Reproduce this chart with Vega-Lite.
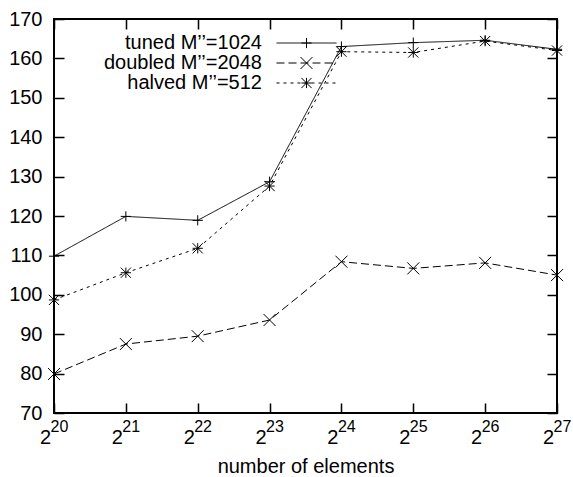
{
  "$schema": "https://vega.github.io/schema/vega-lite/v6.json",
  "width": 503,
  "height": 394,
  "autosize": {"type": "none"},
  "padding": {"left": 54, "top": 19, "right": 16, "bottom": 64},
  "background": "white",
  "data": {
    "values": [
      {"n": 1048576, "series": "tuned M’’=1024", "v": 109.8},
      {"n": 2097152, "series": "tuned M’’=1024", "v": 119.9},
      {"n": 4194304, "series": "tuned M’’=1024", "v": 118.9},
      {"n": 8388608, "series": "tuned M’’=1024", "v": 128.7},
      {"n": 16777216, "series": "tuned M’’=1024", "v": 163.0},
      {"n": 33554432, "series": "tuned M’’=1024", "v": 164.0},
      {"n": 67108864, "series": "tuned M’’=1024", "v": 164.6},
      {"n": 134217728, "series": "tuned M’’=1024", "v": 162.3},
      {"n": 1048576, "series": "doubled M’’=2048", "v": 79.9},
      {"n": 2097152, "series": "doubled M’’=2048", "v": 87.5},
      {"n": 4194304, "series": "doubled M’’=2048", "v": 89.5},
      {"n": 8388608, "series": "doubled M’’=2048", "v": 93.6},
      {"n": 16777216, "series": "doubled M’’=2048", "v": 108.4},
      {"n": 33554432, "series": "doubled M’’=2048", "v": 106.7},
      {"n": 67108864, "series": "doubled M’’=2048", "v": 108.1},
      {"n": 134217728, "series": "doubled M’’=2048", "v": 105.0},
      {"n": 1048576, "series": "halved M’’=512", "v": 98.7},
      {"n": 2097152, "series": "halved M’’=512", "v": 105.6},
      {"n": 4194304, "series": "halved M’’=512", "v": 111.8},
      {"n": 8388608, "series": "halved M’’=512", "v": 127.6},
      {"n": 16777216, "series": "halved M’’=512", "v": 161.7},
      {"n": 33554432, "series": "halved M’’=512", "v": 161.5},
      {"n": 67108864, "series": "halved M’’=512", "v": 164.4},
      {"n": 134217728, "series": "halved M’’=512", "v": 162.0}
    ]
  },
  "config": {
    "font": "Liberation Sans",
    "view": {"stroke": "black", "strokeWidth": 2},
    "axis": {"labelColor": "black", "titleColor": "black"},
    "legend": {"labelColor": "black"}
  },
  "layer": [
    {
      "mark": {"type": "line", "strokeWidth": 1, "color": "black"},
      "encoding": {
        "x": {
          "field": "n",
          "type": "quantitative",
          "scale": {"type": "log", "base": 2, "domain": [1048576, 134217728], "nice": false},
          "axis": {
            "orient": "bottom",
            "values": [1048576, 2097152, 4194304, 8388608, 16777216, 33554432, 67108864, 134217728],
            "labelExpr": "'2'",
            "labelFontSize": 20,
            "labelAlign": "center",
            "labelOffset": -9,
            "labelBaseline": "alphabetic",
            "labelPadding": 30,
            "labelFlush": false,
            "labelOverlap": false,
            "ticks": false,
            "domain": false,
            "grid": true,
            "gridColor": "black",
            "gridOpacity": 1,
            "gridWidth": 1.5,
            "gridDash": [10, 374],
            "title": "number of elements",
            "titleFontSize": 20,
            "titleFontWeight": "normal",
            "titleBaseline": "alphabetic",
            "titleY": 59
          }
        },
        "y": {
          "field": "v",
          "type": "quantitative",
          "scale": {"domain": [70, 170], "nice": false, "zero": false},
          "axis": {
            "orient": "left",
            "values": [70, 80, 90, 100, 110, 120, 130, 140, 150, 160, 170],
            "labelFontSize": 20,
            "labelPadding": 12,
            "labelFlush": false,
            "labelOverlap": false,
            "ticks": false,
            "domain": false,
            "grid": true,
            "gridColor": "black",
            "gridOpacity": 1,
            "gridWidth": 1.5,
            "gridDash": [10, 483],
            "title": null
          }
        },
        "strokeDash": {
          "field": "series",
          "type": "nominal",
          "scale": {
            "domain": ["tuned M’’=1024", "doubled M’’=2048", "halved M’’=512"],
            "range": [[1, 0], [8, 4], [3, 4]]
          },
          "legend": {
            "orient": "none",
            "legendX": 242.5,
            "legendY": 14,
            "title": null,
            "padding": 0,
            "rowPadding": 0,
            "symbolType": "M-6,0L6,0",
            "symbolSize": 100,
            "symbolStrokeWidth": 1,
            "symbolStrokeColor": "black",
            "labelFontSize": 20,
            "labelAlign": "right",
            "labelOffset": -54.5,
            "labelLimit": 400
          }
        }
      }
    },
    {
      "transform": [{"calculate": "datum.series", "as": "mk"}],
      "mark": {"type": "point", "filled": false, "size": 144, "strokeWidth": 1, "color": "black", "opacity": 1},
      "encoding": {
        "x": {
          "field": "n",
          "type": "quantitative",
          "scale": {"type": "log", "base": 2, "domain": [1048576, 134217728], "nice": false},
          "axis": {
            "orient": "bottom",
            "values": [1048576, 2097152, 4194304, 8388608, 16777216, 33554432, 67108864, 134217728],
            "labelExpr": "'' + round(log(datum.value) / LN2)",
            "labelFontSize": 16,
            "labelAlign": "left",
            "labelOffset": -4,
            "labelBaseline": "alphabetic",
            "labelPadding": 18.7,
            "labelFlush": false,
            "labelOverlap": false,
            "ticks": false,
            "domain": false,
            "grid": false,
            "title": null
          }
        },
        "y": {"field": "v", "type": "quantitative", "axis": null},
        "shape": {
          "field": "mk",
          "type": "nominal",
          "sort": ["tuned M’’=1024", "doubled M’’=2048", "halved M’’=512"],
          "scale": {
            "range": [
              "M-0.85,0L0.85,0M0,-0.85L0,0.85",
              "M-1,-1L1,1M-1,1L1,-1",
              "M-0.85,0L0.85,0M0,-0.85L0,0.85M-0.85,-0.85L0.85,0.85M-0.85,0.85L0.85,-0.85"
            ]
          },
          "legend": {
            "orient": "none",
            "legendX": 242.5,
            "legendY": 14,
            "title": null,
            "padding": 0,
            "rowPadding": 0,
            "symbolSize": 144,
            "symbolStrokeWidth": 1,
            "symbolStrokeColor": "black",
            "symbolFillColor": "transparent",
            "labelFontSize": 20,
            "labelExpr": "''"
          }
        }
      }
    }
  ],
  "resolve": {"axis": {"x": "independent", "y": "independent"}}
}
